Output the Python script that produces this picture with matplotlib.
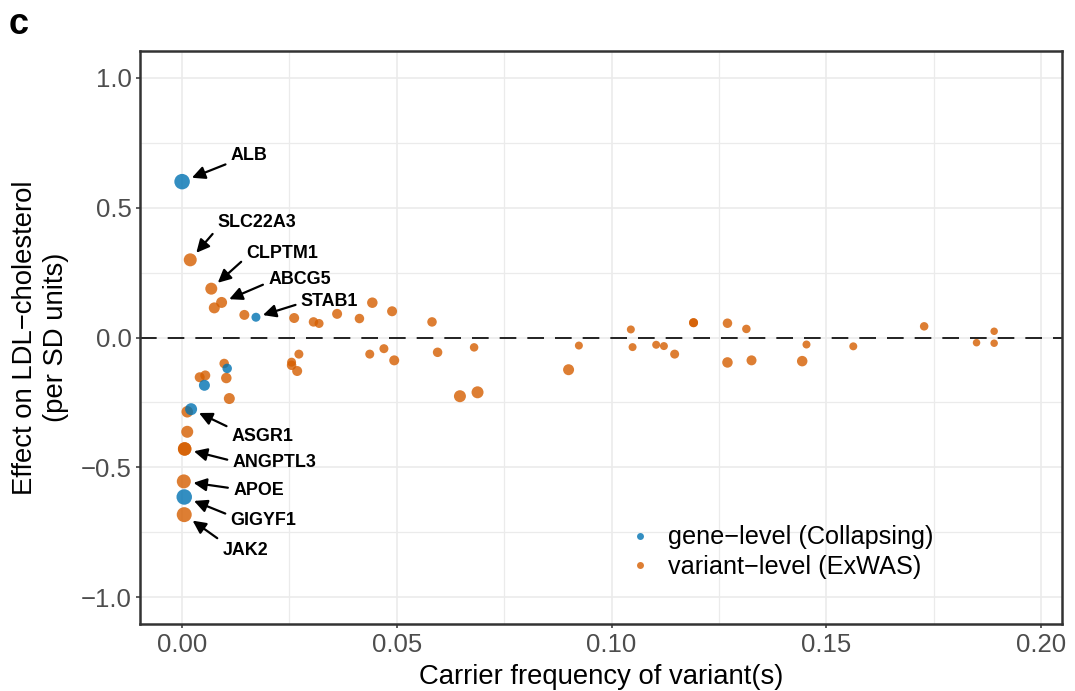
import matplotlib
matplotlib.use("Agg")
import matplotlib.pyplot as plt
from matplotlib.lines import Line2D
from matplotlib.ticker import MultipleLocator

plt.rcParams['font.family'] = ['Liberation Sans', 'DejaVu Sans']

# ---------------- data ----------------
# gene-level (Collapsing)
gene_freq   = [0.0000, 0.0172, 0.0052, 0.0105, 0.0021, 0.0005]
gene_effect = [0.600, 0.078, -0.184, -0.119, -0.276, -0.614]
gene_size   = [15.5, 9.0, 11.0, 9.5, 12.0, 15.5]
gene_names  = ['ALB', 'STAB1', '', '', 'ASGR1', 'GIGYF1']

# variant-level (ExWAS)
variant_freq = [0.0019, 0.0068, 0.0075, 0.0092, 0.0145, 0.0261, 0.0306, 0.0319,
                0.0361, 0.0413, 0.0443, 0.0489, 0.0582, 0.0470, 0.0494, 0.0595,
                0.0647, 0.0688, 0.0680, 0.0900, 0.0924, 0.1045, 0.1049, 0.1104,
                0.1122, 0.1147, 0.1191, 0.1191, 0.1270, 0.1270, 0.1314, 0.1326,
                0.1444, 0.1454, 0.1563, 0.1728, 0.1850, 0.1891, 0.1891, 0.0098,
                0.0041, 0.0054, 0.0103, 0.0110, 0.0012, 0.0012, 0.0006, 0.0006,
                0.0004, 0.0005, 0.0255, 0.0272, 0.0255, 0.0268, 0.0437]
variant_effect = [0.299, 0.188, 0.114, 0.135, 0.087, 0.075, 0.060, 0.054,
                  0.091, 0.073, 0.134, 0.101, 0.060, -0.043, -0.088, -0.057,
                  -0.226, -0.211, -0.038, -0.124, -0.031, 0.031, -0.037, -0.028,
                  -0.033, -0.064, 0.057, 0.057, 0.055, -0.096, 0.033, -0.088,
                  -0.091, -0.027, -0.034, 0.043, -0.020, 0.024, -0.022, -0.100,
                  -0.153, -0.146, -0.156, -0.235, -0.286, -0.363, -0.429, -0.429,
                  -0.554, -0.682, -0.095, -0.064, -0.107, -0.129, -0.064]
variant_size = [13.0, 12.0, 11.0, 11.0, 10.0, 10.0, 9.5, 9.0,
                10.0, 9.5, 10.5, 10.0, 9.5, 9.0, 10.0, 9.5,
                12.0, 12.0, 8.5, 11.0, 8.0, 8.0, 8.0, 8.0,
                8.0, 9.0, 9.0, 9.0, 9.5, 10.5, 8.5, 10.0,
                10.5, 8.0, 8.0, 8.5, 7.5, 7.5, 7.5, 9.5,
                10.0, 10.0, 10.5, 11.0, 11.5, 12.0, 13.5, 13.5,
                14.0, 15.0, 9.0, 9.0, 9.5, 10.0, 9.0]
variant_names = ['SLC22A3', 'CLPTM1', '', 'ABCG5'] + [''] * 42 + ['ANGPTL3', '', 'APOE', 'JAK2'] + [''] * 5

# label text offsets (points) and arrow anchor on the label
label_offset = {
    'ALB': (35.1, 20.2), 'SLC22A3': (19.4, 28.1), 'CLPTM1': (25.0, 26.9),
    'ABCG5': (33.6, 17.6), 'STAB1': (32.4, 12.7), 'ASGR1': (29.3, -18.2),
    'ANGPTL3': (34.6, -8.6), 'APOE': (35.7, -5.0), 'GIGYF1': (33.4, -15.8),
    'JAK2': (27.4, -24.3),
}
label_relpos = {
    'ALB': (0.0, 0.1), 'SLC22A3': (0.0, 0.15), 'CLPTM1': (0.0, 0.25),
    'ABCG5': (0.0, 0.35), 'STAB1': (0.0, 0.4), 'ASGR1': (0.0, 0.95),
    'ANGPTL3': (0.0, 0.6), 'APOE': (0.0, 0.6), 'GIGYF1': (0.0, 0.8),
    'JAK2': (0.0, 1.0),
}

x_ticks = [0.00, 0.05, 0.10, 0.15, 0.20]
x_ticklabels = ['0.00', '0.05', '0.10', '0.15', '0.20']
y_ticks = [-1.0, -0.5, 0.0, 0.5, 1.0]
y_ticklabels = ['\u22121.0', '\u22120.5', '0.0', '0.5', '1.0']

legend_labels = ['gene\u2212level (Collapsing)', 'variant\u2212level (ExWAS)']

# ---------------- style ----------------
BLUE = '#0072B2'
ORANGE = '#D55E00'
ALPHA = 0.8
DPI = 100
PX2PT = 72.0 / DPI


def size_to_s(d):
    return [(v * PX2PT) ** 2 for v in d]


fig = plt.figure(figsize=(10.75, 6.91), dpi=DPI)
ax = fig.add_axes([140 / 1075, 1 - 624 / 691, (1062 - 140) / 1075, (624 - 51) / 691])

ax.set_xlim(-0.0098, 0.2049)
ax.set_ylim(-1.103, 1.103)

ax.xaxis.set_major_locator(MultipleLocator(0.05))
ax.xaxis.set_minor_locator(MultipleLocator(0.025))
ax.yaxis.set_major_locator(MultipleLocator(0.5))
ax.yaxis.set_minor_locator(MultipleLocator(0.25))
ax.set_xticks(x_ticks)
ax.set_xticklabels(x_ticklabels)
ax.set_yticks(y_ticks)
ax.set_yticklabels(y_ticklabels)

ax.grid(which='major', color='#EBEBEB', lw=1.2, zorder=0)
ax.grid(which='minor', color='#EBEBEB', lw=0.9, zorder=0)
ax.set_axisbelow(True)

for sp in ax.spines.values():
    sp.set_color('#333333')
    sp.set_linewidth(1.8)

ax.tick_params(which='major', direction='out', length=3.2, width=1.1, color='#333333',
               labelsize=18.5, labelcolor='#4D4D4D', pad=3)
ax.tick_params(which='minor', length=0)

ax.axhline(0, color='black', lw=1.2, ls=(0, (10, 6.6)), zorder=1)

ax.scatter(variant_freq, variant_effect, s=size_to_s(variant_size), color=ORANGE,
           alpha=ALPHA, linewidths=0, zorder=3)
ax.scatter(gene_freq, gene_effect, s=size_to_s(gene_size), color=BLUE,
           alpha=ALPHA, linewidths=0, zorder=4)

def annotate(names, xs, ys, sizes):
    for n, x, y, d in zip(names, xs, ys, sizes):
        if not n:
            continue
        dx, dy = label_offset[n]
        ax.annotate(n, xy=(x, y), xytext=(dx, dy - 4.6), textcoords='offset points',
                    ha='left', va='baseline', fontsize=12.9, fontweight='bold',
                    color='black', zorder=6,
                    arrowprops=dict(arrowstyle='-|>,head_length=0.65,head_width=0.32',
                                    color='black', lw=1.6, mutation_scale=12,
                                    shrinkA=2, shrinkB=d * PX2PT / 2 + 2,
                                    relpos=label_relpos[n]))

annotate(variant_names, variant_freq, variant_effect, variant_size)
annotate(gene_names, gene_freq, gene_effect, gene_size)

ax.set_xlabel('Carrier frequency of variant(s)', fontsize=19.8, color='black', labelpad=5)
ax.set_ylabel('Effect on LDL\u2212cholesterol\n(per SD units)', fontsize=19.8,
              color='black', labelpad=8, linespacing=1.28)

handles = [Line2D([], [], ls='none', marker='o', markersize=5, color=BLUE, alpha=ALPHA,
                  markeredgewidth=0),
           Line2D([], [], ls='none', marker='o', markersize=5, color=ORANGE, alpha=ALPHA,
                  markeredgewidth=0)]
fig.legend(handles, legend_labels, loc='center left',
           bbox_to_anchor=(627.5 / 1075, 1 - 552 / 691), frameon=False, fontsize=18.2,
           handlelength=1.0, handletextpad=0.6, labelspacing=0.2, borderpad=0,
           borderaxespad=0)

fig.text(9 / 1075, 1 - 34 / 691, 'c', fontsize=26, fontweight='bold', ha='left',
         va='baseline')

fig.savefig('out.png', dpi=DPI)
